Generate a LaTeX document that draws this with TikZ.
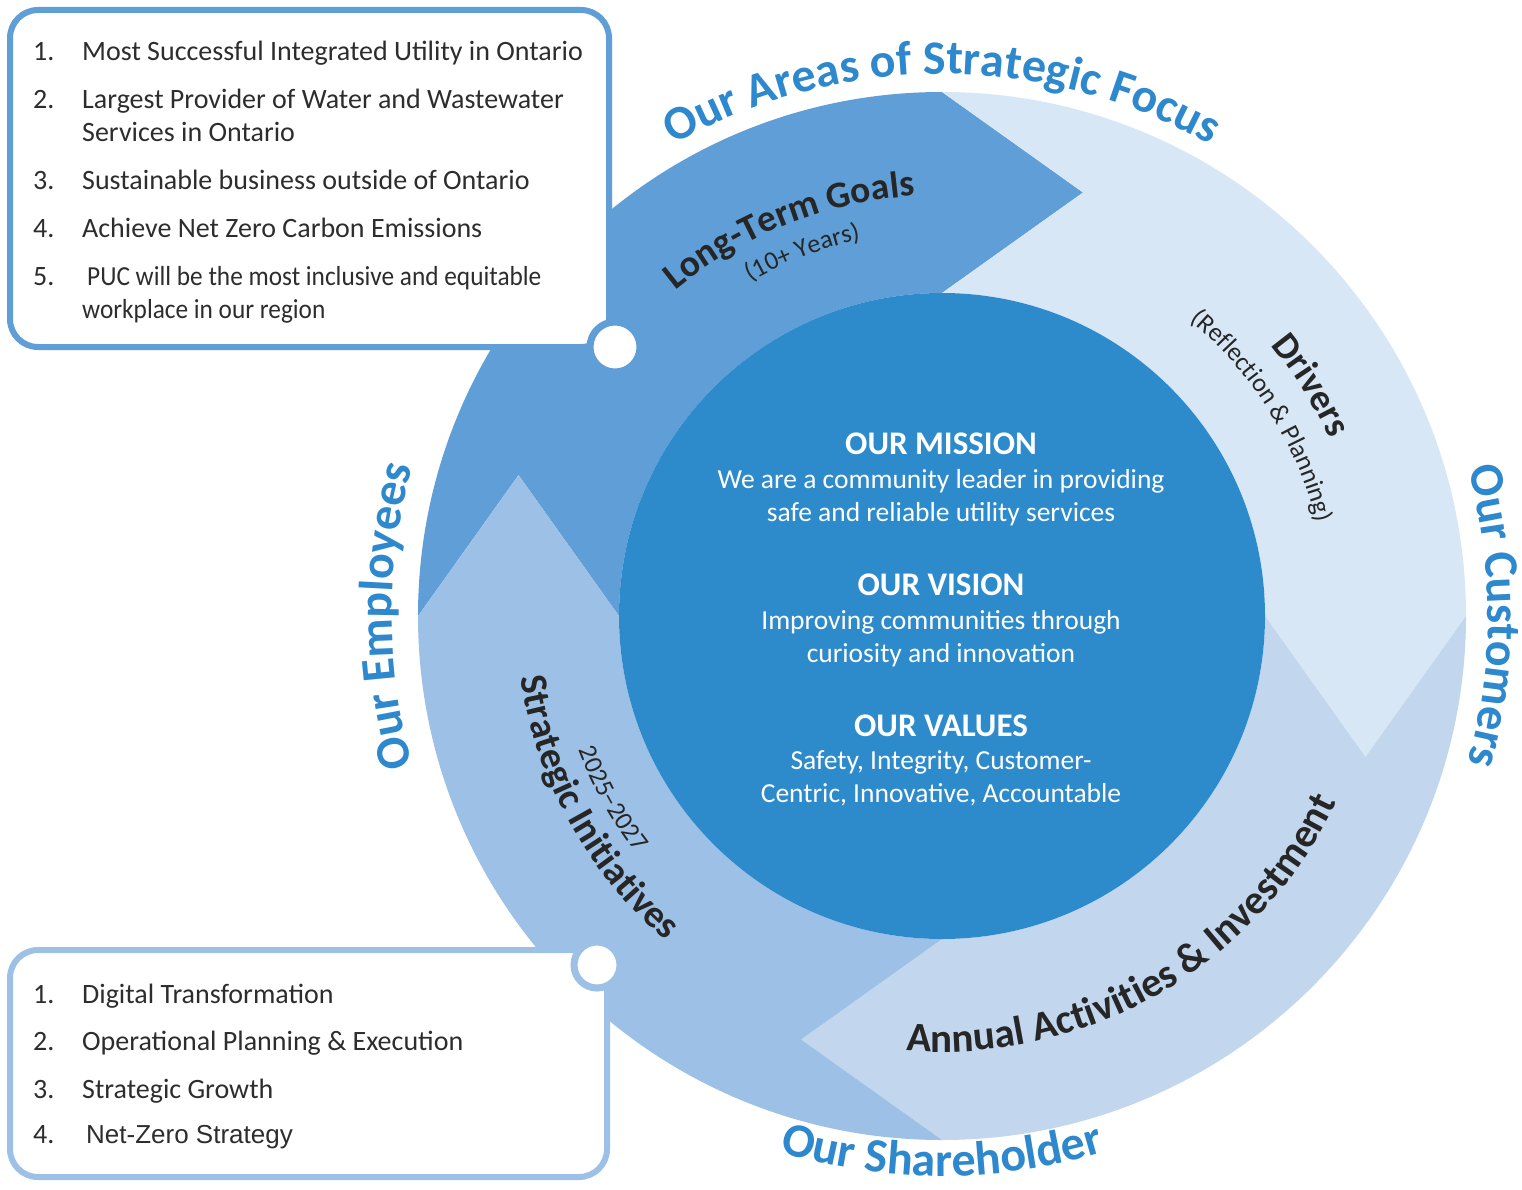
\documentclass[tikz,border=0pt]{standalone}
\usepackage{fontspec}
\setmainfont{Carlito}
\newfontfamily\arialfont{Liberation Sans}
\newfontfamily\narrowfont[FakeStretch=0.92]{Carlito}
\usetikzlibrary{calc,decorations.text}

\definecolor{ringtext}{RGB}{46,136,205}
\definecolor{coreblue}{RGB}{45,139,204}
\definecolor{goalblue}{RGB}{95,158,214}
\definecolor{driveblue}{RGB}{216,231,246}
\definecolor{annualblue}{RGB}{194,215,238}
\definecolor{initblue}{RGB}{157,192,230}
\definecolor{darktext}{RGB}{38,38,38}
\definecolor{listtext}{RGB}{45,45,45}

\newcommand\outerfont{\bfseries\fontsize{48}{50}\selectfont}
\newcommand\titlefont{\bfseries\fontsize{37.5}{40}\selectfont}
\newcommand\subfont{\fontsize{26}{30}\selectfont}

\def\Rout{524pt}
\def\Rin{323pt}
\def\Rmid{423.5pt}
\def\Head{141pt}

% one quarter of the ring, with its arrow head at angle #2
\newcommand{\ringpiece}[2]{%
  \pgfmathsetmacro\startang{#2+90}
  \fill[#1] (\startang:\Rout) arc[start angle=\startang, end angle=#2, radius=\Rout]
    -- ($(#2:\Rmid)+(#2-90:\Head)$) -- (#2:\Rin)
    arc[start angle=#2, end angle=\startang, radius=\Rin]
    -- ($(\startang:\Rmid)+(#2:\Head)$) -- cycle;}

\tikzstyle{ring label}=[decorate, decoration={text along path, text align=center, text color=ringtext}]
\tikzstyle{seg label}=[decorate, decoration={text along path, text align=center, text color=darktext}]
\tikzstyle{list box}=[draw, rectangle, rounded corners=28pt, fill=white, line width=6pt, inner sep=0pt]
\tikzstyle{knob}=[circle, draw, fill=white, line width=7pt, inner sep=0pt]
\tikzstyle{list item}=[anchor=base west, inner sep=0pt, text=listtext, font=\fontsize{28}{33}\selectfont]
\tikzstyle{core disc}=[circle, fill=coreblue, minimum size=646pt, inner sep=0pt]
\tikzstyle{core head}=[anchor=base, inner sep=0pt, text=white, font=\bfseries\fontsize{33}{40}\selectfont]
\tikzstyle{core line}=[anchor=base, inner sep=0pt, text=white, font=\fontsize{27.5}{33}\selectfont]

\begin{document}
\begin{tikzpicture}[x=1pt,y=1pt]
\fill[white] (0,0) rectangle (1522,-1190);
\useasboundingbox (0,0) rectangle (1522,-1190);

% the cycle of four arrows round the core
\begin{scope}[shift={(942,-616)}]
  \ringpiece{goalblue}{90}
  \ringpiece{driveblue}{0}
  \ringpiece{annualblue}{-90}
  \ringpiece{initblue}{-180}
  \node[core disc] (core) at (0,0) {};

  % labels round the outside
  \path[ring label, decoration={text={|\outerfont|Our Areas of Strategic Focus}}]
    (150:542pt) arc[start angle=150, end angle=30, radius=542pt];
  \path[ring label, decoration={text={|\outerfont|Our Customers}}]
    (40:546pt) arc[start angle=40, end angle=-40, radius=546pt];
  \path[ring label, decoration={text={|\outerfont|Our Employees}}]
    (220:550pt) arc[start angle=220, end angle=140, radius=550pt];
  \path[ring label, decoration={text={|\outerfont|Our Shareholder}}]
    (235:560pt) arc[start angle=235, end angle=305, radius=560pt];

  % labels on the arrows
  \path[seg label, decoration={text={|\titlefont|Long-Term Goals}}]
    (151.5:421pt) arc[start angle=151.5, end angle=71.5, radius=421pt];
  \path[seg label, decoration={text={|\subfont|(10+ Years)}}]
    (151:385pt) arc[start angle=151, end angle=71, radius=385pt];
  \path[seg label, decoration={text={|\titlefont|Drivers}}]
    (72:426pt) arc[start angle=72, end angle=-8, radius=426pt];
  \path[seg label, decoration={text={|\subfont|(Reflection {\&} Planning)}}]
    (72:386pt) arc[start angle=72, end angle=-8, radius=386pt];
  \path[seg label, decoration={text={|\bfseries\fontsize{41}{44}\selectfont|Annual Activities {\&} Investment}}]
    (240:436pt) arc[start angle=240, end angle=360, radius=436pt];
  \path[seg label, decoration={text={|\bfseries\fontsize{38.5}{42}\selectfont|Strategic Initiatives}}]
    (169:426pt) arc[start angle=169, end angle=249, radius=426pt];
  \path[seg label, decoration={text={|\subfont|2025–2027}}]
    (180:387pt) arc[start angle=180, end angle=238, radius=387pt];
\end{scope}

% mission, vision and values
\foreach \nm/\y/\txt in {mission/454/OUR MISSION, vision/595/OUR VISION, values/736/OUR VALUES}
  \node[core head] (\nm) at (941,-\y) {\txt};
\foreach \nm/\y/\txt in {m1/488/We are a community leader in providing,
    m2/521/safe and reliable utility services,
    v1/629/Improving communities through, v2/662/curiosity and innovation,
    w1/769/{Safety, Integrity, Customer-}, w2/802/{Centric, Innovative, Accountable}}
  \node[core line] (\nm) at (941,-\y) {\txt};

% the two lists
\node[list box, draw=goalblue, minimum width=599pt, minimum height=337pt] (goals) at (309.5,-178.5) {};
\node[list box, draw=initblue, minimum width=597pt, minimum height=227pt] (inits) at (308.5,-1063.5) {};
\node[knob, draw=goalblue, minimum size=50pt] (gknob) at ($(goals.south east)+(3,3)$) {};
\node[knob, draw=initblue, minimum size=46pt] (iknob) at ($(inits.north east)+(-13,-18)$) {};

\foreach \nm/\y/\num/\txt in {g1/61/1./Most Successful Integrated Utility in Ontario,
    g2/109/2./Largest Provider of Water and Wastewater, g2b/142//Services in Ontario,
    g3/190/3./Sustainable business outside of Ontario,
    g4/237/4./Achieve Net Zero Carbon Emissions,
    g5/285/5./{\narrowfont\fontsize{27.5}{33}\selectfont\hspace{5pt}PUC will be the most inclusive and equitable},
    g5b/318//{\narrowfont\fontsize{27.5}{33}\selectfont workplace in our region}}
  \node[list item] (\nm) at (33,-\y) {\makebox[49pt][l]{\num}\txt};

\foreach \nm/\y/\num/\txt in {i1/1003/1./Digital Transformation,
    i2/1050/2./Operational Planning {\&} Execution,
    i3/1098/3./Strategic Growth,
    i4/1143/4./{\arialfont\fontsize{26}{30}\selectfont\hspace{4pt}Net-Zero Strategy}}
  \node[list item] (\nm) at (33,-\y) {\makebox[49pt][l]{\num}\txt};
\end{tikzpicture}
\end{document}
